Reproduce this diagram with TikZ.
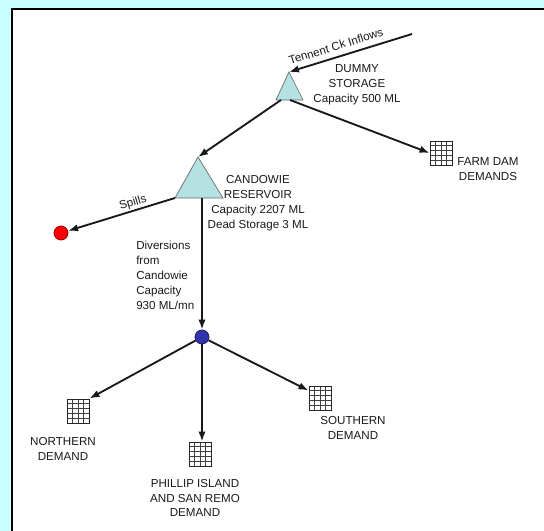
\documentclass[tikz,border=0pt]{standalone}
\usepackage{fontspec}
\setmainfont{Liberation Sans}
\usetikzlibrary{arrows.meta,calc}
\definecolor{bgcyan}{HTML}{C8FFFF}
\definecolor{trifill}{HTML}{B4E1E1}
\definecolor{txt}{HTML}{1A1A1A}
\definecolor{bluenode}{HTML}{3333AA}
\tikzset{
  lbl/.style={font=\fontsize{8.7}{11.2}\selectfont, text=txt, inner sep=0pt, align=center},
  flow/.style={line width=1.4pt, draw=black!90, -{Latex[length=7.5pt,width=5.5pt]}},
  tri/.style={fill=trifill, draw=black!60, line width=0.5pt},
  gridbox/.style={draw=black!85, line width=0.7pt, minimum width=16.5pt, minimum height=18pt, inner sep=0pt, fill=white,
    path picture={
      \foreach \i in {1,...,3}{
        \draw[black!75, line width=0.5pt] ($(path picture bounding box.south west)!\i/4!(path picture bounding box.south east)$) -- ($(path picture bounding box.north west)!\i/4!(path picture bounding box.north east)$);
      }
      \foreach \i in {1,...,4}{
        \draw[black!75, line width=0.5pt] ($(path picture bounding box.south west)!\i/5!(path picture bounding box.north west)$) -- ($(path picture bounding box.south east)!\i/5!(path picture bounding box.north east)$);
      }
    }},
  dot/.style={circle, minimum size=10.5pt, inner sep=0pt, line width=0.6pt}
}
\begin{document}
\begin{tikzpicture}[x=0.75pt,y=-0.75pt]
\useasboundingbox (0,0) rectangle (544,531);
\fill[bgcyan] (0,0) rectangle (544,531);
\fill[white] (12,9) rectangle (544,531);
\draw[black, line width=0.9pt] (12,531) -- (12,9) -- (544,9);

% storages
\coordinate (dum-apex) at (289,72);
\coordinate (dum-l) at (276,100);
\coordinate (dum-r) at (303,100);
\coordinate (dum-out1) at (281,100);
\coordinate (dum-out2) at (290,100);
\path[tri] (dum-apex) -- (dum-l) -- (dum-r) -- cycle;

\coordinate (cand-apex) at (198,157);
\coordinate (cand-l) at (175,198);
\coordinate (cand-r) at (223,198);
\coordinate (cand-out) at (202,198);
\path[tri] (cand-apex) -- (cand-l) -- (cand-r) -- cycle;

\coordinate (inflow) at (412,34);

% nodes
\node[dot, fill=red, draw=red!60!black] (spill) at (61,233) {};
\node[dot, fill=bluenode, draw=bluenode!60!black] (junc) at (202,337) {};
\node[gridbox] (fgrid) at (441,153) {};
\node[gridbox] (ngrid) at (78,411) {};
\node[gridbox] (pgrid) at (200,454) {};
\node[gridbox] (sgrid) at (320,398) {};

% connectors
\draw[flow] (inflow) -- (dum-apex);
\draw[flow] (dum-out1) -- (cand-apex);
\draw[flow] (dum-out2) -- (fgrid.west);
\draw[flow] (cand-l) -- (spill);
\draw[flow] (cand-out) -- (junc);
\draw[flow] (junc) -- (ngrid.north east);
\draw[flow] (junc) -- (junc |- pgrid.north);
\draw[flow] (junc) -- ($(sgrid.north west)+(0,5)$);

% labels
\node[lbl, rotate=17.4] (l-inflow) at (336,46) {Tennent Ck Inflows};
\node[lbl, rotate=16.6] (l-spill) at (133,203) {Spills};
\node[lbl] (l-dum) at (357,84.5) {DUMMY\\STORAGE\\Capacity 500 ML};
\node[lbl] (l-cand) at (258,203.5) {CANDOWIE\\RESERVOIR\\Capacity 2207 ML\\Dead Storage 3 ML};
\node[lbl, align=left, anchor=west] (l-div) at (136,275) {Diversions\\from\\Candowie\\Capacity\\930 ML/mn};
\node[lbl] (l-farm) at (488,169) {FARM DAM\\DEMANDS};
\node[lbl] (l-north) at (63,448.5) {NORTHERN\\DEMAND};
\node[lbl] (l-phil) at (195,498) {PHILLIP ISLAND\\AND SAN REMO\\DEMAND};
\node[lbl] (l-south) at (353,427.5) {SOUTHERN\\DEMAND};
\end{tikzpicture}
\end{document}
